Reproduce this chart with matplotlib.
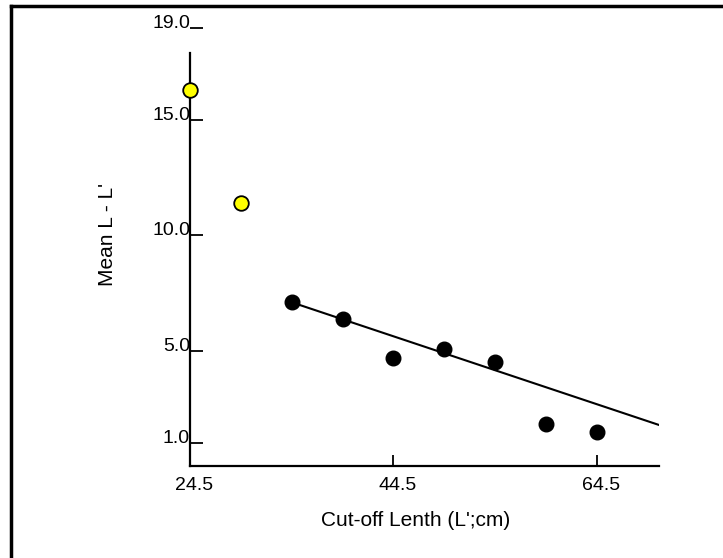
import matplotlib
matplotlib.use("Agg")
import matplotlib.pyplot as plt
from matplotlib.lines import Line2D
from matplotlib.transforms import ScaledTranslation

# values
yellow_x = [24.5, 29.5]
yellow_y = [16.3, 11.4]
black_x = [34.5, 39.5, 44.5, 49.5, 54.5, 59.5, 64.5]
black_y = [7.1, 6.37, 4.68, 5.07, 4.5, 1.81, 1.49]
fit_x = [34.5, 70.6]
fit_y = [7.1, 1.78]

x_ticks = [24.5, 44.5, 64.5]
y_ticks = [1.0, 5.0, 10.0, 15.0, 19.0]

plt.rcParams['font.family'] = ['Liberation Sans', 'DejaVu Sans']

fig = plt.figure(figsize=(7.23, 5.58), dpi=100)
W, H = 723.0, 558.0
ax = fig.add_axes([190 / W, 1 - 466 / H, (659 - 190) / W, (466 - 28) / H])

ax.plot(fit_x, fit_y, color='black', linewidth=1.5, zorder=2)
ax.plot(black_x, black_y, 'o', color='black', markersize=10.5, zorder=3, clip_on=False)
ax.plot(yellow_x, yellow_y, 'o', markerfacecolor='#ffff00', markeredgecolor='black',
        markeredgewidth=1.3, markersize=10.5, zorder=3, clip_on=False)

ax.set_xlim(24.5, 70.6)
ax.set_ylim(0, 19.0)

ax.spines['top'].set_visible(False)
ax.spines['right'].set_visible(False)
ax.spines['left'].set_bounds(0, 17.9)
ax.spines['left'].set_linewidth(1.6)
ax.spines['bottom'].set_linewidth(1.6)

ax.set_xticks(x_ticks)
ax.set_xticklabels(['%.1f' % v for v in x_ticks])
ax.set_yticks(y_ticks)
ax.set_yticklabels(['%.1f' % v for v in y_ticks])
ax.tick_params(axis='x', direction='in', length=8, width=1.3, pad=8, labelsize=14, colors='black')
ax.tick_params(axis='y', direction='in', length=9, width=1.3, pad=0, labelsize=14, colors='black')
for lbl in ax.get_yticklabels():
    lbl.set_va('baseline')
# x labels sit a few pixels right of their ticks in the original
shift = ScaledTranslation(4 / 100.0, 0, fig.dpi_scale_trans)
for lbl in ax.get_xticklabels():
    lbl.set_transform(lbl.get_transform() + shift)

ax.set_xlabel("Cut-off Lenth (L';cm)", fontsize=15)
ax.xaxis.set_label_coords((416 - 190) / 469.0, (466 - 521) / 438.0)
ax.xaxis.label.set_va('center')
ax.set_ylabel("Mean L - L'", fontsize=15)
ax.yaxis.set_label_coords((108 - 190) / 469.0, (466 - 234) / 438.0)
ax.yaxis.label.set_va('center')

# frame round the picture (top and left edges only)
fig.add_artist(Line2D([10.5 / W, 1.0], [1 - 6 / H, 1 - 6 / H], color='black', linewidth=2.5))
fig.add_artist(Line2D([10.5 / W, 10.5 / W], [0.0, 1 - 6 / H], color='black', linewidth=2.5))

fig.savefig('out.png', dpi=100)
